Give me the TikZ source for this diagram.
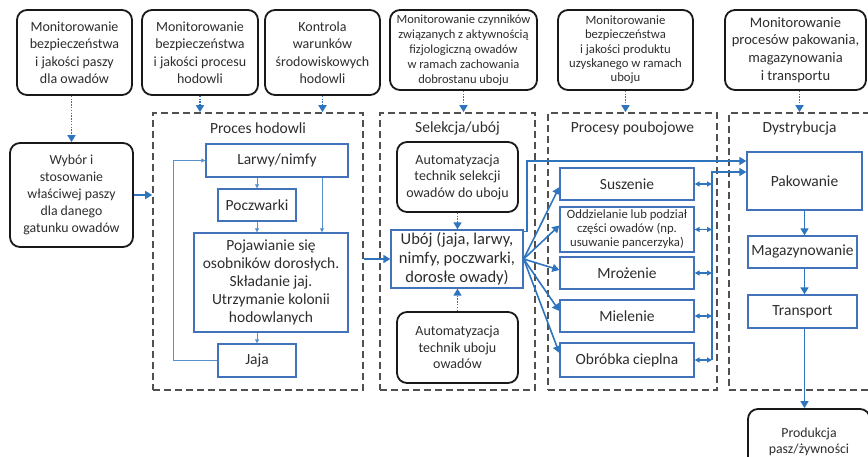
\documentclass[tikz,border=0pt]{standalone}
\usepackage{fontspec}
\setmainfont{Carlito}
\usetikzlibrary{arrows.meta,calc}
\definecolor{boxblue}{RGB}{66,114,186}
\definecolor{arrblue}{RGB}{46,117,190}
\definecolor{txt}{RGB}{45,45,45}
\definecolor{dashgray}{RGB}{80,80,80}
\newcommand{\fs}[2]{\fontsize{#1}{#2}\selectfont}
\begin{document}
\begin{tikzpicture}[x=1pt,y=-1pt,
  every node/.style={text=txt, align=center, inner sep=0pt},
  topbox/.style={draw=black!90, line width=1.8pt, rounded corners=10pt},
  bluebox/.style={draw=boxblue, line width=1.3pt},
  dashbox/.style={draw=dashgray, line width=1.6pt, dash pattern=on 7pt off 4pt},
  ttl/.style={font=\fs{15.5}{18}},
  arr/.style={draw=arrblue, line width=1.6pt, -{Triangle[width=8pt,length=7pt]}},
  thinarr/.style={draw=arrblue!80, line width=0.8pt, -{Triangle[width=4pt,length=4pt]}},
  dotarr/.style={draw=arrblue, line width=1.6pt, dash pattern=on 1.4pt off 1.4pt, -{Triangle[width=8pt,length=7pt]}},
  dblarr/.style={draw=arrblue, line width=1.3pt, {Triangle[width=5pt,length=5pt]}-{Triangle[width=5pt,length=5pt]}}
]
\useasboundingbox (0,0) rectangle (868,457);

% top monitoring boxes
\node[topbox, minimum width=115pt, minimum height=85pt, font=\fs{14}{17.5}] (t1) at (74.5,52.5)
  {Monitorowanie\\bezpieczeństwa\\i jakości paszy\\dla owadów};
\node[topbox, minimum width=116pt, minimum height=85pt, font=\fs{14}{17.5}] (t2) at (200,52.5)
  {Monitorowanie\\bezpieczeństwa\\i jakości procesu\\hodowli};
\node[topbox, minimum width=115pt, minimum height=85pt, font=\fs{14}{17.5}] (t3) at (322.5,52.5)
  {Kontrola\\warunków\\środowiskowych\\hodowli};
\node[topbox, minimum width=147pt, minimum height=80pt, font=\fs{12.5}{15}] (t4) at (463.5,50)
  {Monitorowanie czynników\\związanych z aktywnością\\fizjologiczną owadów\\w ramach zachowania\\dobrostanu uboju};
\node[topbox, minimum width=135pt, minimum height=80pt, font=\fs{12.7}{14.3}] (t5) at (625.5,50)
  {Monitorowanie\\bezpieczeństwa\\i jakości produktu\\uzyskanego w ramach\\uboju};
\node[topbox, minimum width=141pt, minimum height=80pt, font=\fs{14.5}{17.7}] (t6) at (795.5,50)
  {Monitorowanie\\procesów pakowania,\\magazynowania\\i transportu};

% feed selection
\node[topbox, minimum width=123pt, minimum height=104pt, font=\fs{13.8}{17}] (wyb) at (71.5,195)
  {Wybór i\\stosowanie\\właściwej paszy\\dla danego\\gatunku owadów};

% dashed containers
\node[dashbox, minimum width=210pt, minimum height=277pt] (d1) at (258,251.5) {};
\node[dashbox, minimum width=155pt, minimum height=277pt] (d2) at (457.5,251.5) {};
\node[dashbox, minimum width=169pt, minimum height=277pt] (d3) at (632.5,251.5) {};
\node[dashbox, minimum width=141pt, minimum height=277pt] (d4) at (799.5,251.5) {};
\node[ttl] (h1) at (258,128) {Proces hodowli};
\node[ttl] (h2) at (457.5,128) {Selekcja/ubój};
\node[ttl] (h3) at (632.5,128) {Procesy poubojowe};
\node[ttl] (h4) at (799.5,128) {Dystrybucja};

% rearing
\node[bluebox, minimum width=142pt, minimum height=33pt, font=\fs{15.5}{18}] (lar) at (277,160.5) {Larwy/nimfy};
\node[bluebox, minimum width=78pt, minimum height=32pt, font=\fs{15.5}{18}] (poc) at (257,205) {Poczwarki};
\node[bluebox, minimum width=154pt, minimum height=99pt, font=\fs{15.5}{18}] (poj) at (271,282.5)
  {Pojawianie się\\osobników dorosłych.\\Składanie jaj.\\Utrzymanie kolonii\\hodowlanych};
\node[bluebox, minimum width=78pt, minimum height=33pt, font=\fs{15.5}{18}] (jaj) at (257,360.5) {Jaja};

% selection / slaughter
\node[topbox, minimum width=121pt, minimum height=70pt, font=\fs{14}{16.5}] (sel) at (457.5,177)
  {Automatyzacja\\technik selekcji\\owadów do uboju};
\node[bluebox, minimum width=132pt, minimum height=58pt, font=\fs{16.5}{19}] (ubo) at (457,259)
  {Ubój (jaja, larwy,\\nimfy, poczwarki,\\dorosłe owady)};
\node[topbox, minimum width=121pt, minimum height=71pt, font=\fs{14}{16.5}] (uba) at (457.5,347.5)
  {Automatyzacja\\technik uboju\\owadów};

% post-slaughter
\node[bluebox, minimum width=134pt, minimum height=32pt, font=\fs{15.5}{18}] (sus) at (627,184) {Suszenie};
\node[bluebox, minimum width=134pt, minimum height=45pt, font=\fs{12.7}{14}] (odd) at (627,229.5)
  {Oddzielanie lub podział\\części owadów (np.\\usuwanie pancerzyka)};
\node[bluebox, minimum width=134pt, minimum height=32pt, font=\fs{15.5}{18}] (mro) at (627,273) {Mrożenie};
\node[bluebox, minimum width=134pt, minimum height=32pt, font=\fs{15.5}{18}] (mie) at (627,316) {Mielenie};
\node[bluebox, minimum width=134pt, minimum height=34pt, font=\fs{15.5}{18}] (obr) at (627,360) {Obróbka cieplna};

% distribution
\node[bluebox, minimum width=115pt, minimum height=58pt, font=\fs{15.5}{18}] (pak) at (804.5,181) {Pakowanie};
\node[bluebox, minimum width=109pt, minimum height=32pt, font=\fs{15.5}{18}] (mag) at (802.5,252) {Magazynowanie};
\node[bluebox, minimum width=109pt, minimum height=33pt, font=\fs{15.5}{18}] (tra) at (802.5,311.5) {Transport};
\node[topbox, minimum width=122pt, minimum height=66pt, font=\fs{13.8}{15.5}] (pro) at (809,442)
  {Produkcja\\pasz/żywności};

% helper coordinates
\coordinate (lp) at (173,0);
\coordinate (x322) at (322,0);
\coordinate (c1) at (712,172);
\coordinate (py) at (0,161);
\coordinate (ux) at (527,0);

% dotted monitoring arrows
\draw[dotarr] (wyb.north |- t1.south) -- (wyb.north);
\draw[dotarr] (t2.south) -- (t2.south |- d1.north);
\draw[dotarr] (t3.south) -- (t3.south |- d1.north);
\draw[dotarr] (t4.south) -- (t4.south |- d2.north);
\draw[dotarr] (t5.south) -- (t5.south |- d3.north);
\draw[dotarr] ([xshift=4pt]t6.south) -- ([xshift=4pt]t6.south |- d4.north);
\draw[dotarr] (sel.south) -- (sel.south |- ubo.north);
\draw[dotarr] (uba.north) -- (uba.north |- ubo.south);

% main flow
\draw[arr] (wyb.east) -- (wyb.east -| d1.west);
\draw[arr] (d1.east |- ubo.west) -- (ubo.west);

% rearing cycle
\draw[thinarr] (poc.north |- lar.south) -- (poc.north);
\draw[thinarr] (poc.south) -- (poc.south |- poj.north);
\draw[thinarr] (lar.south -| x322) -- (poj.north -| x322);
\draw[thinarr] (jaj.north |- poj.south) -- (jaj.north);
\draw[thinarr] (jaj.west) -- (jaj.west -| lp) |- (lar.west);

% slaughter fan
\draw[arr] (ubo.east) -- ([yshift=-3pt]sus.west);
\draw[arr] (ubo.east) -- ([yshift=4pt]odd.west);
\draw[arr] (ubo.east) -- ([yshift=3pt]mro.west);
\draw[arr] (ubo.east) -- ([yshift=5pt]mie.west);
\draw[arr] (ubo.east) -- ([yshift=7pt]obr.west);
\draw[arr] ([yshift=-2pt]ubo.north east) -- ([yshift=-2pt]ubo.north east -| ux) |- (pak.west |- py);

% collector
\draw[dblarr] (sus.east) -- (sus.east -| c1);
\draw[dblarr] (odd.east) -- (odd.east -| c1);
\draw[dblarr] (mro.east) -- (mro.east -| c1);
\draw[dblarr] (mie.east) -- (mie.east -| c1);
\draw[dblarr] (obr.east) -- (obr.east -| c1);
\draw[arr] (obr.east -| c1) -- (c1) -- (c1 -| pak.west);

% distribution chain
\draw[arr] (pak.south) -- (pak.south |- mag.north);
\draw[arr] (mag.south -| pak.south) -- (tra.north -| pak.south);
\draw[arr] (tra.south -| pak.south) -- (pro.north -| pak.south);
\end{tikzpicture}
\end{document}
